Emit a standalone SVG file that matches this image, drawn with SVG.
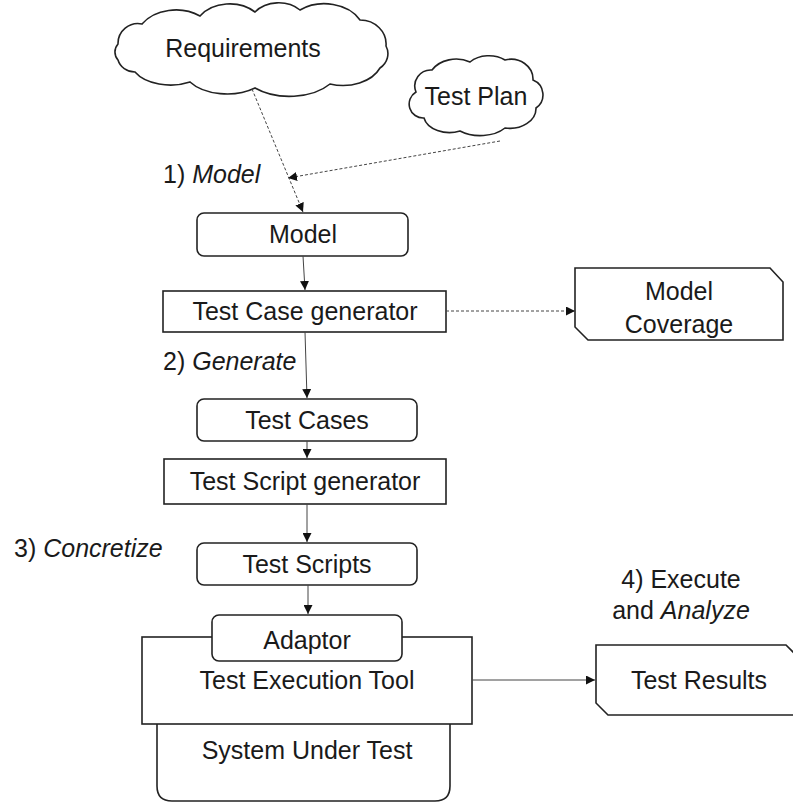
<svg xmlns="http://www.w3.org/2000/svg" width="793" height="804" viewBox="0 0 793 804">
<style>
text{font-family:"Liberation Sans",Arial,sans-serif;font-size:25px;fill:#1a1a1a}
.c{text-anchor:middle}
.i{font-style:italic}
.shape{fill:#fff;stroke:#222;stroke-width:1.6}
.ln{fill:none;stroke:#444;stroke-width:1}
.dash{fill:none;stroke:#444;stroke-width:1;stroke-dasharray:3 2}
</style>
<defs>
<marker id="ah" viewBox="0 0 10 10" refX="10" refY="5" markerWidth="9" markerHeight="9" markerUnits="userSpaceOnUse" orient="auto">
<path d="M0,0 L10,5 L0,10 Z" fill="#111"/>
</marker>
</defs>
<g id="requirements">
<path class="shape" d="M118,44 A20 20 0 0 1 142,24 A40 30 0 0 1 200,16 A36 28 0 0 1 255,12 A30 24 0 0 1 300,10 A40 30 0 0 1 360,20 A26 24 0 0 1 386,46 A20 18 0 0 1 380,68 A40 28 0 0 1 330,84 A50 30 0 0 1 255,88 A44 26 0 0 1 190,82 A40 24 0 0 1 135,72 A18 16 0 0 1 118,60 A12 12 0 0 1 118,44 Z"/>
<text class="c" x="243" y="57">Requirements</text>
</g>
<g id="testplan">
<path class="shape" d="M416,92 A16 16 0 0 1 432,70 A28 22 0 0 1 470,62 A26 20 0 0 1 505,60 A22 20 0 0 1 533,80 A16 16 0 0 1 536,108 A26 20 0 0 1 505,128 A32 20 0 0 1 460,131 A26 18 0 0 1 424,118 A14 14 0 0 1 416,92 Z"/>
<text class="c" x="476" y="105">Test Plan</text>
</g>
<g id="model">
<rect class="shape" x="197" y="213" width="211" height="43" rx="7"/>
<text class="c" x="303" y="243">Model</text>
</g>
<g id="tcgen">
<rect class="shape" x="163" y="291" width="283" height="41"/>
<text class="c" x="305" y="320">Test Case generator</text>
</g>
<g id="coverage">
<path class="shape" d="M575,268 H770 L783,282 V340 H588 L575,327 Z"/>
<text class="c" x="679" y="300">Model</text>
<text class="c" x="679" y="333">Coverage</text>
</g>
<g id="testcases">
<rect class="shape" x="197" y="399" width="220" height="42" rx="7"/>
<text class="c" x="307" y="429">Test Cases</text>
</g>
<g id="tsgen">
<rect class="shape" x="164" y="459" width="282" height="45"/>
<text class="c" x="305" y="490">Test Script generator</text>
</g>
<g id="testscripts">
<rect class="shape" x="197" y="543" width="220" height="42" rx="7"/>
<text class="c" x="307" y="573">Test Scripts</text>
</g>
<g id="sut">
<path class="shape" d="M157,724 V786 Q157,801 172,801 H435 Q450,801 450,786 V724"/>
<text class="c" x="307" y="759">System Under Test</text>
</g>
<g id="tet">
<rect class="shape" x="142" y="637" width="330" height="87"/>
<text class="c" x="307" y="689">Test Execution Tool</text>
</g>
<g id="adaptor">
<rect class="shape" x="212" y="615" width="190" height="46" rx="7"/>
<text class="c" x="307" y="649">Adaptor</text>
</g>
<g id="results">
<path class="shape" d="M596,645 H786 L800,659 V715 H608 L596,703 Z"/>
<text class="c" x="699" y="689">Test Results</text>
</g>
<g id="labels">
<text x="163" y="183">1) <tspan class="i">Model</tspan></text>
<text x="163" y="370">2) <tspan class="i">Generate</tspan></text>
<text x="14" y="557">3) <tspan class="i">Concretize</tspan></text>
<text class="c" x="681" y="588">4) Execute</text>
<text class="c" x="681" y="619">and <tspan class="i">Analyze</tspan></text>
</g>
<g id="connectors">
<line class="dash" x1="252" y1="89" x2="303" y2="212" marker-end="url(#ah)"/>
<line class="dash" x1="500" y1="141" x2="288" y2="178" marker-end="url(#ah)"/>
<line class="ln" x1="303" y1="256" x2="305" y2="290" marker-end="url(#ah)"/>
<line class="dash" x1="446" y1="311" x2="575" y2="311" marker-end="url(#ah)"/>
<line class="ln" x1="305" y1="332" x2="307" y2="398" marker-end="url(#ah)"/>
<line class="ln" x1="307" y1="441" x2="307" y2="458" marker-end="url(#ah)"/>
<line class="ln" x1="307" y1="504" x2="307" y2="542" marker-end="url(#ah)"/>
<line class="ln" x1="308" y1="585" x2="308" y2="614" marker-end="url(#ah)"/>
<line class="ln" x1="472" y1="680" x2="595" y2="680" marker-end="url(#ah)"/>
</g>
</svg>
